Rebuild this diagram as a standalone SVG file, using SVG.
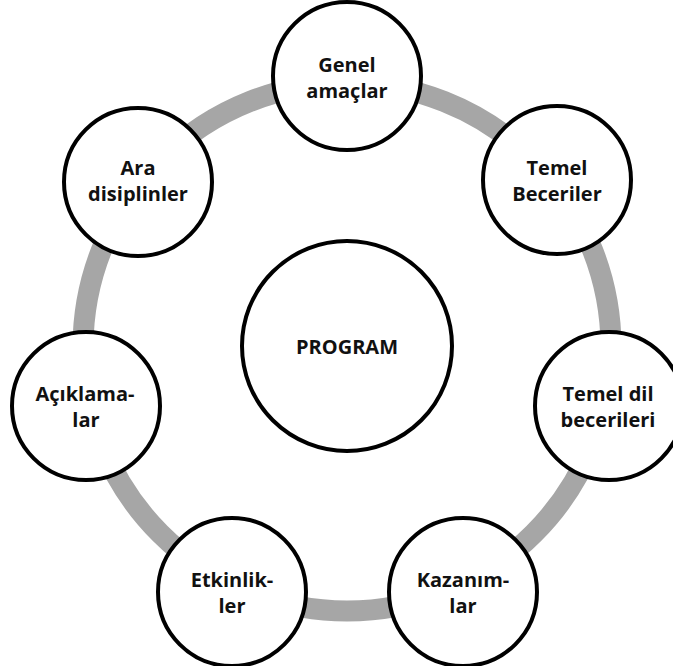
<svg xmlns="http://www.w3.org/2000/svg" width="673" height="666" viewBox="0 0 673 666">
<style>
.node{fill:#ffffff;stroke:#000000;stroke-width:4}
.ring{fill:none;stroke:#a6a6a6;stroke-width:21}
.lbl{font-family:"Open Sans","Liberation Sans",sans-serif;font-weight:700;font-size:20px;fill:#111111;text-anchor:middle}
</style>
<rect width="673" height="666" fill="#ffffff"/>
<g id="connectors">
<circle class="ring" cx="347" cy="347" r="264"/>
</g>
<g id="program">
<circle class="node" cx="347" cy="346" r="105"/>
<text class="lbl" x="347" y="354">PROGRAM</text>
</g>
<g id="genel-amaclar">
<circle class="node" cx="347" cy="76" r="74"/>
<text class="lbl" x="347" y="72">Genel</text>
<text class="lbl" x="347" y="98">amaçlar</text>
</g>
<g id="temel-beceriler">
<circle class="node" cx="557" cy="180" r="74"/>
<text class="lbl" x="557" y="175">Temel</text>
<text class="lbl" x="557" y="201">Beceriler</text>
</g>
<g id="temel-dil-becerileri">
<circle class="node" cx="609" cy="406" r="74"/>
<text class="lbl" x="608" y="401">Temel dil</text>
<text class="lbl" x="608" y="427">becerileri</text>
</g>
<g id="kazanimlar">
<circle class="node" cx="463" cy="592" r="74"/>
<text class="lbl" x="463" y="587">Kazanım-</text>
<text class="lbl" x="463" y="613">lar</text>
</g>
<g id="etkinlikler">
<circle class="node" cx="232" cy="592" r="74"/>
<text class="lbl" x="232" y="587">Etkinlik-</text>
<text class="lbl" x="232" y="613">ler</text>
</g>
<g id="aciklamalar">
<circle class="node" cx="86" cy="406" r="74"/>
<text class="lbl" x="85" y="401">Açıklama-</text>
<text class="lbl" x="86" y="427">lar</text>
</g>
<g id="ara-disiplinler">
<circle class="node" cx="138" cy="182" r="74"/>
<text class="lbl" x="138" y="175">Ara</text>
<text class="lbl" x="138" y="201">disiplinler</text>
</g>
</svg>
